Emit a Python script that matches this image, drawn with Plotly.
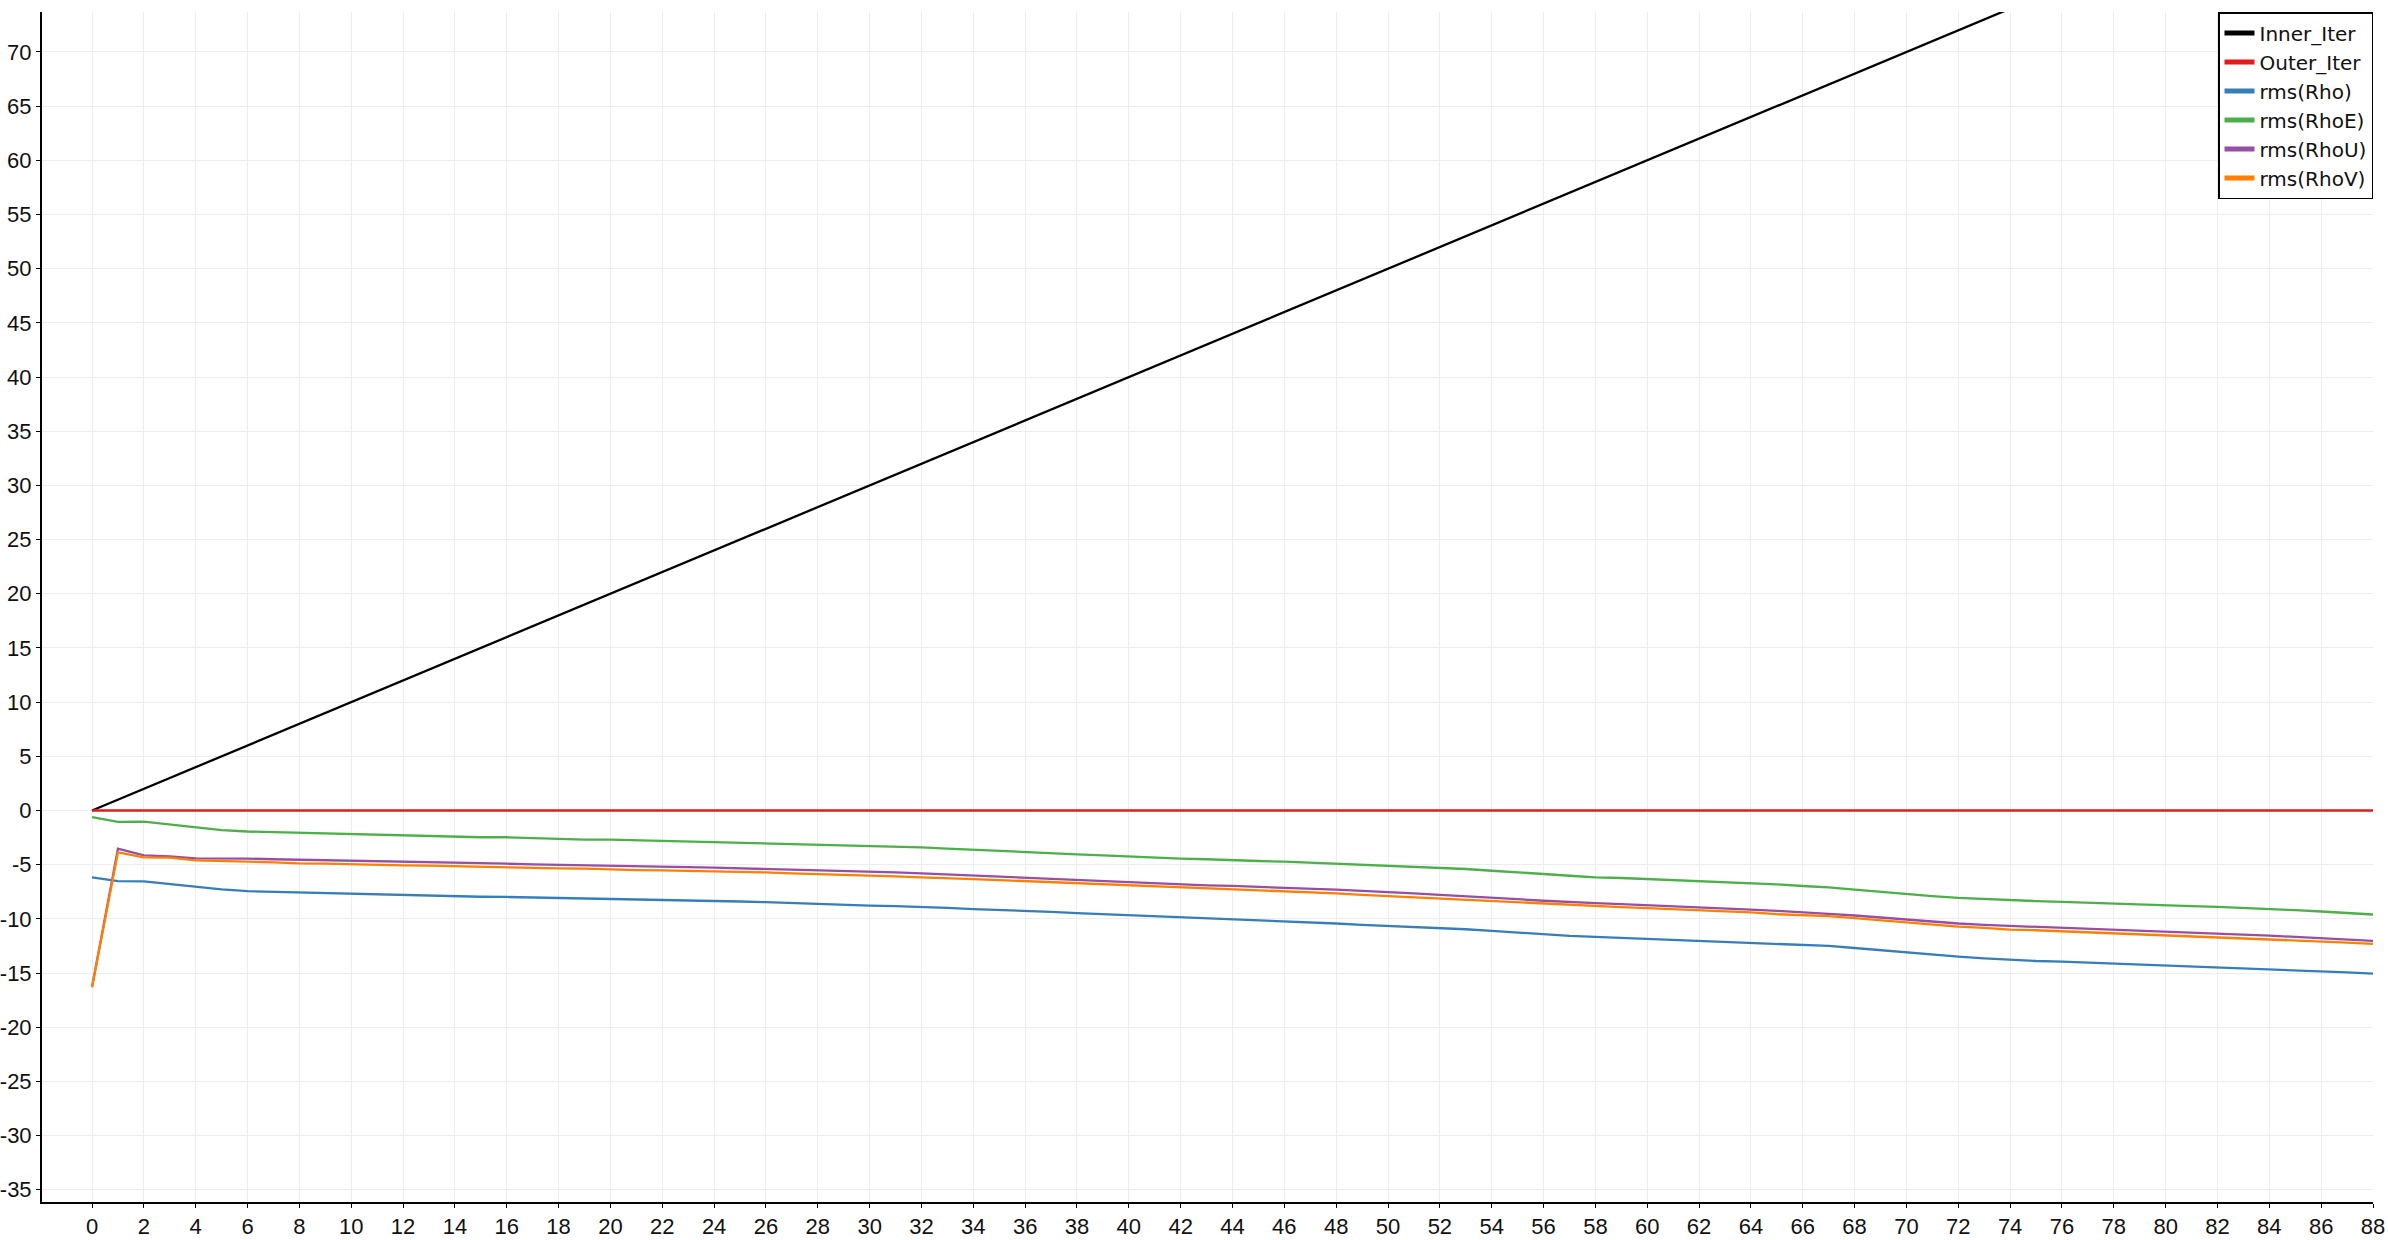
import plotly.graph_objects as go

iteration = [0, 1, 2, 3, 4, 5, 6, 7, 8, 9, 10, 11, 12, 13, 14, 15, 16, 17, 18, 19,
             20, 21, 22, 23, 24, 25, 26, 27, 28, 29, 30, 31, 32, 33, 34, 35, 36, 37, 38, 39,
             40, 41, 42, 43, 44, 45, 46, 47, 48, 49, 50, 51, 52, 53, 54, 55, 56, 57, 58, 59,
             60, 61, 62, 63, 64, 65, 66, 67, 68, 69, 70, 71, 72, 73, 74, 75, 76, 77, 78, 79,
             80, 81, 82, 83, 84, 85, 86, 87, 88]

inner_iter = [0, 1, 2, 3, 4, 5, 6, 7, 8, 9, 10, 11, 12, 13, 14, 15, 16, 17, 18, 19,
              20, 21, 22, 23, 24, 25, 26, 27, 28, 29, 30, 31, 32, 33, 34, 35, 36, 37, 38, 39,
              40, 41, 42, 43, 44, 45, 46, 47, 48, 49, 50, 51, 52, 53, 54, 55, 56, 57, 58, 59,
              60, 61, 62, 63, 64, 65, 66, 67, 68, 69, 70, 71, 72, 73, 74, 75, 76, 77, 78, 79,
              80, 81, 82, 83, 84, 85, 86, 87, 88]

outer_iter = [0, 0, 0, 0, 0, 0, 0, 0, 0, 0, 0, 0, 0, 0, 0, 0, 0, 0, 0, 0,
              0, 0, 0, 0, 0, 0, 0, 0, 0, 0, 0, 0, 0, 0, 0, 0, 0, 0, 0, 0,
              0, 0, 0, 0, 0, 0, 0, 0, 0, 0, 0, 0, 0, 0, 0, 0, 0, 0, 0, 0,
              0, 0, 0, 0, 0, 0, 0, 0, 0, 0, 0, 0, 0, 0, 0, 0, 0, 0, 0, 0,
              0, 0, 0, 0, 0, 0, 0, 0, 0]

rms_rho = [-6.17, -6.51, -6.54, -6.79, -7.10, -7.28, -7.44, -7.50, -7.59, -7.65,
           -7.69, -7.78, -7.84, -7.90, -7.93, -7.96, -7.98, -8.02, -8.09, -8.15,
           -8.18, -8.21, -8.23, -8.27, -8.36, -8.40, -8.46, -8.55, -8.64, -8.67,
           -8.77, -8.83, -8.89, -8.98, -9.10, -9.17, -9.26, -9.35, -9.48, -9.57,
           -9.69, -9.78, -9.88, -9.97, -10.08, -10.15, -10.25, -10.31, -10.43, -10.56,
           -10.65, -10.74, -10.83, -10.96, -11.11, -11.27, -11.45, -11.57, -11.67, -11.76,
           -11.85, -11.94, -12.04, -12.13, -12.22, -12.35, -12.44, -12.50, -12.69, -12.90,
           -13.09, -13.27, -13.49, -13.64, -13.80, -13.89, -13.95, -14.04, -14.14, -14.20,
           -14.26, -14.35, -14.44, -14.54, -14.63, -14.72, -14.81, -14.94, -15.06]

rms_rhoe = [-0.62, -1.05, -1.02, -1.27, -1.54, -1.82, -1.94, -2.00, -2.10, -2.13,
            -2.16, -2.28, -2.31, -2.38, -2.40, -2.47, -2.47, -2.56, -2.59, -2.69,
            -2.69, -2.75, -2.78, -2.84, -2.90, -2.93, -2.99, -3.06, -3.12, -3.18,
            -3.24, -3.30, -3.40, -3.52, -3.61, -3.70, -3.83, -3.95, -4.04, -4.14,
            -4.26, -4.35, -4.44, -4.50, -4.61, -4.66, -4.72, -4.81, -4.91, -5.00,
            -5.09, -5.19, -5.28, -5.40, -5.56, -5.68, -5.86, -6.02, -6.17, -6.23,
            -6.33, -6.39, -6.48, -6.60, -6.70, -6.82, -6.97, -7.10, -7.31, -7.53,
            -7.72, -7.90, -8.06, -8.18, -8.30, -8.36, -8.43, -8.52, -8.58, -8.64,
            -8.73, -8.83, -8.89, -8.98, -9.07, -9.20, -9.32, -9.44, -9.60]

rms_rhou = [-16.3, -3.52, -4.14, -4.23, -4.41, -4.41, -4.44, -4.50, -4.54, -4.63,
            -4.63, -4.69, -4.72, -4.78, -4.81, -4.85, -4.91, -4.97, -5.00, -5.03,
            -5.09, -5.15, -5.19, -5.22, -5.28, -5.34, -5.37, -5.43, -5.49, -5.59,
            -5.62, -5.71, -5.80, -5.90, -6.02, -6.11, -6.23, -6.36, -6.45, -6.54,
            -6.64, -6.76, -6.82, -6.91, -6.96, -7.04, -7.10, -7.19, -7.31, -7.41,
            -7.50, -7.65, -7.78, -7.90, -8.02, -8.18, -8.33, -8.46, -8.55, -8.64,
            -8.73, -8.83, -8.95, -9.04, -9.14, -9.26, -9.37, -9.54, -9.69, -9.88,
            -10.06, -10.25, -10.43, -10.56, -10.65, -10.71, -10.80, -10.86, -10.96, -11.05,
            -11.14, -11.23, -11.33, -11.42, -11.54, -11.67, -11.79, -11.91, -12.04]

rms_rhov = [-16.3, -3.86, -4.32, -4.35, -4.60, -4.69, -4.72, -4.78, -4.88, -4.90,
            -4.97, -5.00, -5.06, -5.09, -5.15, -5.22, -5.28, -5.29, -5.34, -5.37,
            -5.46, -5.50, -5.52, -5.55, -5.62, -5.68, -5.71, -5.80, -5.86, -5.96,
            -6.02, -6.08, -6.17, -6.23, -6.33, -6.42, -6.51, -6.60, -6.70, -6.79,
            -6.88, -7.00, -7.07, -7.16, -7.27, -7.35, -7.44, -7.53, -7.65, -7.78,
            -7.90, -7.99, -8.09, -8.21, -8.33, -8.46, -8.61, -8.70, -8.80, -8.92,
            -9.01, -9.10, -9.20, -9.29, -9.41, -9.57, -9.69, -9.75, -9.94, -10.15,
            -10.34, -10.56, -10.71, -10.83, -10.99, -11.05, -11.14, -11.23, -11.33, -11.42,
            -11.51, -11.60, -11.70, -11.79, -11.91, -12.01, -12.10, -12.19, -12.31]

series_names = ["Inner_Iter", "Outer_Iter", "rms(Rho)", "rms(RhoE)", "rms(RhoU)", "rms(RhoV)"]
series_values = [inner_iter, outer_iter, rms_rho, rms_rhoe, rms_rhou, rms_rhov]
series_colors = ["#000000", "#e41a1c", "#377eb8", "#4daf4a", "#984ea3", "#ff7f00"]

x_tick_vals = [0, 2, 4, 6, 8, 10, 12, 14, 16, 18, 20, 22, 24, 26, 28, 30, 32, 34, 36, 38, 40, 42, 44,
               46, 48, 50, 52, 54, 56, 58, 60, 62, 64, 66, 68, 70, 72, 74, 76, 78, 80, 82, 84, 86, 88]
x_tick_text = [str(v) for v in x_tick_vals]
y_tick_vals = [-35, -30, -25, -20, -15, -10, -5, 0, 5, 10, 15, 20, 25, 30, 35, 40, 45, 50, 55, 60, 65, 70]
y_tick_text = ["-35", "-30", "-25", "-20", "-15", "-10", "-5", "0", "5", "10", "15",
               "20", "25", "30", "35", "40", "45", "50", "55", "60", "65", "70"]

TICK_FONT = "'Liberation Sans Narrow', 'Liberation Sans', sans-serif"
LEGEND_FONT = "'DejaVu Sans', sans-serif"

fig = go.Figure()
for name, vals, col in zip(series_names, series_values, series_colors):
    fig.add_trace(go.Scatter(x=iteration, y=vals, mode="lines", name=name,
                             line=dict(color=col, width=2.3)))

axis_common = dict(
    showline=True, linecolor="#000000", linewidth=2,
    showgrid=True, gridcolor="#ededed", gridwidth=1,
    zeroline=False, ticks="outside", ticklen=4, tickwidth=1, tickcolor="#000000",
    tickfont=dict(family=TICK_FONT, size=22, color="#111111"), mirror=False,
    automargin=False,
)

fig.update_layout(
    width=2388, height=1240,
    paper_bgcolor="#ffffff", plot_bgcolor="#ffffff",
    margin=dict(l=42, r=15, t=12, b=38),
    font=dict(family=TICK_FONT, color="#111111"),
    xaxis=dict(range=[-1.93, 88], tickmode="array", tickvals=x_tick_vals, ticktext=x_tick_text,
               **axis_common),
    yaxis=dict(range=[-36.13, 73.69], tickmode="array", tickvals=y_tick_vals, ticktext=y_tick_text,
               **axis_common),
    showlegend=True,
    legend=dict(x=1, y=1, xanchor="right", yanchor="top",
                bgcolor="#ffffff", bordercolor="#000000", borderwidth=1.5,
                font=dict(family=LEGEND_FONT, size=20, color="#111111"),
                itemwidth=30, tracegroupgap=0, itemsizing="constant"),
)

# remove the default page margin so the figure sits at the window's top-left corner
fig.write_html("out.html", config={"displayModeBar": False},
               post_script="document.body.style.margin='0px';document.body.style.overflow='hidden';")
